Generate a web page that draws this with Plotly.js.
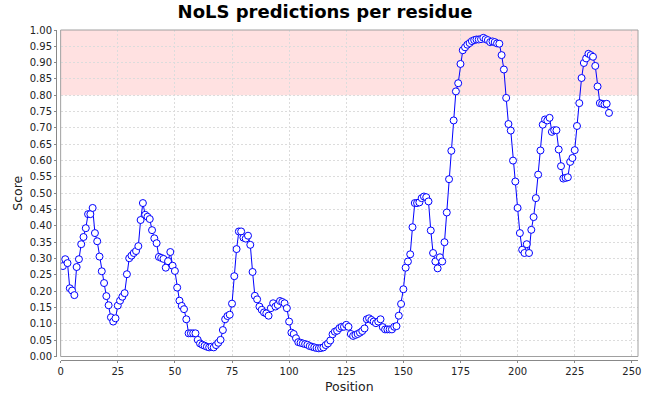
<!DOCTYPE html>
<html>
<head>
<meta charset="utf-8">
<script src="https://cdn.plot.ly/plotly-3.0.1.min.js"></script>
<style>
  html, body { margin: 0; padding: 0; background: #fff; }
  #chart { width: 650px; height: 400px; }
</style>
</head>
<body>
<div id="chart"></div>
<script>
// NoLS score per residue (residues 1..240)
var scores = [
  0.277, 0.298, 0.286, 0.209, 0.202, 0.188, 0.274, 0.298, 0.344, 0.366,
  0.393, 0.436, 0.436, 0.455, 0.378, 0.353, 0.306, 0.261, 0.225, 0.185,
  0.157, 0.120, 0.107, 0.117, 0.156, 0.171, 0.183, 0.194, 0.252, 0.301,
  0.309, 0.317, 0.323, 0.338, 0.418, 0.470, 0.434, 0.428, 0.421, 0.387,
  0.362, 0.347, 0.305, 0.302, 0.299, 0.272, 0.292, 0.320, 0.278, 0.262,
  0.211, 0.171, 0.155, 0.145, 0.114, 0.071, 0.071, 0.071, 0.071, 0.051,
  0.040, 0.036, 0.033, 0.030, 0.028, 0.030, 0.028, 0.035, 0.042, 0.051,
  0.081, 0.114, 0.124, 0.128, 0.162, 0.246, 0.329, 0.383, 0.383, 0.364,
  0.361, 0.370, 0.342, 0.259, 0.186, 0.175, 0.153, 0.143, 0.135, 0.132,
  0.125, 0.148, 0.163, 0.153, 0.158, 0.170, 0.167, 0.163, 0.148, 0.107,
  0.073, 0.069, 0.056, 0.044, 0.042, 0.040, 0.038, 0.036, 0.032, 0.030,
  0.028, 0.026, 0.025, 0.026, 0.028, 0.035, 0.040, 0.049, 0.068, 0.076,
  0.079, 0.087, 0.091, 0.091, 0.097, 0.091, 0.069, 0.063, 0.066, 0.069,
  0.073, 0.078, 0.086, 0.114, 0.117, 0.112, 0.107, 0.102, 0.107, 0.114,
  0.090, 0.083, 0.083, 0.083, 0.083, 0.091, 0.093, 0.125, 0.161, 0.206,
  0.272, 0.291, 0.313, 0.396, 0.470, 0.470, 0.472, 0.485, 0.490, 0.488,
  0.475, 0.386, 0.317, 0.291, 0.270, 0.304, 0.291, 0.350, 0.441, 0.543,
  0.630, 0.723, 0.812, 0.837, 0.896, 0.938, 0.947, 0.955, 0.960, 0.966,
  0.969, 0.971, 0.971, 0.972, 0.976, 0.972, 0.969, 0.963, 0.965, 0.963,
  0.959, 0.958, 0.923, 0.879, 0.792, 0.712, 0.692, 0.600, 0.536, 0.455,
  0.378, 0.327, 0.317, 0.344, 0.317, 0.388, 0.427, 0.485, 0.557, 0.631,
  0.710, 0.726, 0.723, 0.731, 0.688, 0.693, 0.693, 0.634, 0.583, 0.545,
  0.547, 0.549, 0.596, 0.608, 0.632, 0.706, 0.776, 0.853, 0.899, 0.913,
  0.927, 0.923, 0.918, 0.890, 0.827, 0.776, 0.774, 0.772, 0.774, 0.746
];
var firstResidue = 1;
var positions = scores.map(function (s, i) { return firstResidue + i; });

// nucleolar localisation threshold band
var bandLow = 0.8;
var bandHigh = 1.0;

var xTicks = [0, 25, 50, 75, 100, 125, 150, 175, 200, 225, 250];

var font = 'DejaVu Sans, Verdana, sans-serif';
var gridColor = '#dcdcdc';
var textColor = '#222222';

var trace = {
  x: positions,
  y: scores,
  type: 'scatter',
  mode: 'lines+markers',
  line: { color: '#0000ff', width: 1 },
  marker: { symbol: 'circle', size: 7, color: '#ffffff',
            line: { color: '#0000ff', width: 1 } },
  hoverinfo: 'x+y'
};

var layout = {
  width: 650,
  height: 400,
  margin: { l: 56, r: 12, t: 30, b: 40 },
  paper_bgcolor: '#ffffff',
  plot_bgcolor: '#ffffff',
  showlegend: false,
  title: {
    text: 'NoLS predictions per residue',
    font: { family: font, size: 18, color: '#000000', weight: 'bold' },
    xref: 'container', x: 0.5, xanchor: 'center',
    yref: 'container', y: 0.97, yanchor: 'middle'
  },
  xaxis: {
    domain: [0.008, 1],
    anchor: 'free', position: 0,
    range: [0, 252.7],
    tickvals: xTicks,
    ticks: 'outside', ticklen: 2, tickcolor: '#888888',
    showline: true, linecolor: '#888888', linewidth: 1,
    showgrid: true, gridcolor: gridColor, griddash: '2px,2px', gridwidth: 1,
    zeroline: false,
    tickfont: { family: font, size: 10, color: textColor },
    title: { text: 'Position', font: { family: font, size: 12.5, color: textColor }, standoff: 6 }
  },
  yaxis: {
    domain: [0.0106, 1],
    anchor: 'free', position: 0,
    range: [0, 1],
    dtick: 0.05, tickformat: '.2f',
    ticks: 'outside', ticklen: 2, tickcolor: '#888888',
    showline: true, linecolor: '#888888', linewidth: 1,
    showgrid: true, gridcolor: gridColor, griddash: '2px,2px', gridwidth: 1,
    zeroline: false,
    tickfont: { family: font, size: 10, color: textColor },
    title: { text: 'Score', font: { family: font, size: 12.5, color: textColor }, standoff: 3 }
  },
  shapes: [
    { type: 'rect', layer: 'below', xref: 'x domain', yref: 'y',
      x0: 0, x1: 1, y0: bandLow, y1: bandHigh,
      fillcolor: '#ffe1e1', line: { width: 0 } },
    { type: 'rect', layer: 'above', xref: 'x domain', yref: 'y domain',
      x0: 0, x1: 1, y0: 0, y1: 1,
      line: { color: '#a0a0a0', width: 1 } }
  ]
};

Plotly.newPlot('chart', [trace], layout, { displayModeBar: false, staticPlot: true });
</script>
</body>
</html>
